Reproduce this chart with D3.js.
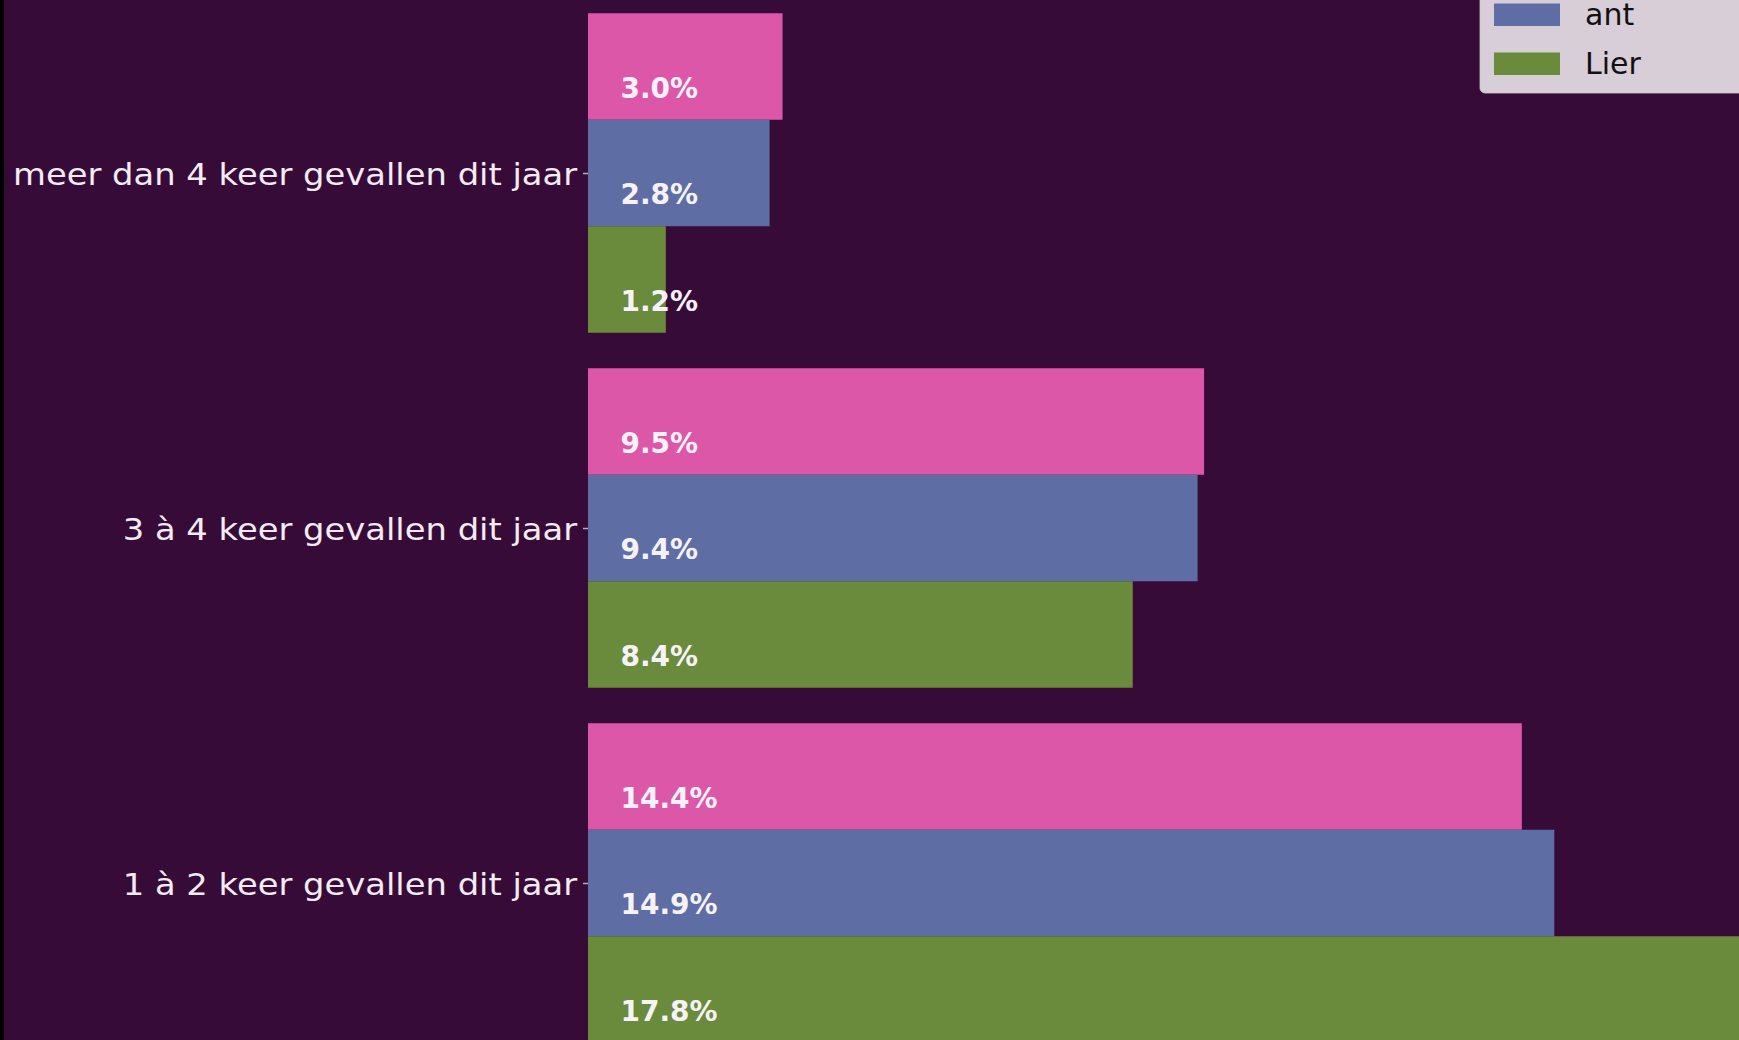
<!DOCTYPE html>
<html>
<head>
<meta charset="utf-8">
<script src="https://cdn.jsdelivr.net/npm/d3@7"></script>
<style>
  body { margin: 0; background: #370b37; overflow: hidden; }
  svg { display: block; }
</style>
</head>
<body>
<script>
// values (percent)
var categories = ["meer dan 4 keer gevallen dit jaar", "3 à 4 keer gevallen dit jaar", "1 à 2 keer gevallen dit jaar"];
var seriesNames = ["Vlaanderen", "ant", "Lier"];
var valuesVlaanderen = [3.0, 9.5, 14.4];
var valuesAnt = [2.8, 9.4, 14.9];
var valuesLier = [1.2, 8.4, 17.8];
var seriesColors = ["#dd57a9", "#5e6ea5", "#6a8a3c"];

var width = 1739, height = 1040;
var seriesValues = [valuesVlaanderen, valuesAnt, valuesLier];

var svg = d3.select("body").append("svg")
            .attr("width", width)
            .attr("height", height);

svg.append("rect").attr("width", width).attr("height", height).style("fill", "#370b37");
svg.append("rect").attr("width", 4).attr("height", height).style("fill", "#000");

var x = d3.scaleLinear().domain([0, 18]).range([588, 588 + 18 * 64.85]);
// category index -> centre of the group
var y = d3.scaleLinear().domain([0, 2]).range([173, 883]);
var step = y(1) - y(0);
var barH = 0.3 * step;

seriesValues.forEach(function(vals, j){
  var off = (j - 1) * 0.3;
  svg.selectAll("rect.s" + j)
    .data(vals)
    .enter().append("rect")
    .attr("class", "s" + j)
    .attr("x", x(0))
    .attr("y", function(d, i){ return y(i + off) - barH / 2; })
    .attr("width", function(d){ return x(d) - x(0); })
    .attr("height", barH)
    .style("fill", seriesColors[j]);

  svg.selectAll("text.v" + j)
    .data(vals)
    .enter().append("text")
    .attr("class", "v" + j)
    .attr("x", x(0.5))
    .attr("y", function(d, i){ return y(i + off) + barH / 2 - 22; })
    .style("font-family", "DejaVu Sans")
    .style("font-weight", "bold")
    .style("font-size", "28px")
    .style("fill", "#f7f2f7")
    .text(function(d){ return d.toFixed(1) + "%"; });
});

// y axis labels + ticks
var yAxis = d3.axisLeft(y).tickValues([0, 1, 2])
  .tickFormat(function(i){ return categories[i]; })
  .tickSize(5).tickPadding(5);

var ax = svg.append("g")
  .attr("transform", "translate(" + x(0) + ",0)")
  .call(yAxis);
ax.select(".domain").remove();
ax.selectAll(".tick line").style("stroke", "#b8aab8").style("stroke-width", 1.5);
ax.selectAll(".tick text")
  .style("font-family", "DejaVu Sans")
  .style("font-size", "31px")
  .style("fill", "#f2ecf2")
  .attr("dy", "0.38em")
  .attr("transform", "scale(1.09,1)");

// legend, top entry runs off the top edge
var lg = svg.append("g").attr("transform", "translate(1480,0)");
lg.append("rect")
  .attr("x", 0).attr("y", -200)
  .attr("width", 300).attr("height", 293)
  .attr("rx", 5)
  .style("fill", "#ffffff").style("fill-opacity", 0.8)
  .style("stroke", "#cccccc").style("stroke-opacity", 0.8);

var entries = lg.selectAll("g.entry")
  .data(seriesNames)
  .enter().append("g")
  .attr("class", "entry")
  .attr("transform", function(d, i){ return "translate(0," + (3.5 + (i - 1) * 49) + ")"; });
entries.append("rect")
  .attr("x", 14).attr("y", 0)
  .attr("width", 66).attr("height", 22.5)
  .style("fill", function(d, i){ return seriesColors[i]; });
entries.append("text")
  .attr("x", 105).attr("y", 21)
  .style("font-family", "DejaVu Sans")
  .style("font-size", "30px")
  .style("fill", "#111")
  .text(function(d){ return d; });
</script>
</body>
</html>
